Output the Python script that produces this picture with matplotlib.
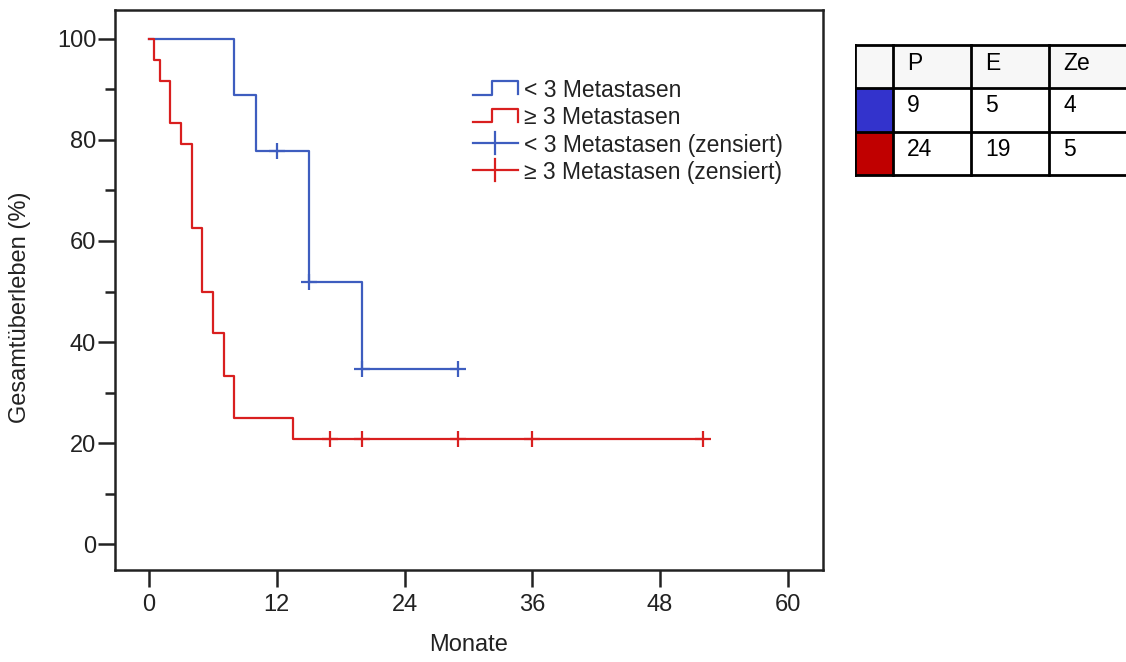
import matplotlib
matplotlib.use("Agg")
import matplotlib.pyplot as plt
from matplotlib.legend_handler import HandlerBase
from matplotlib.lines import Line2D
from matplotlib.patches import Rectangle

# ---------------- data ----------------
group_labels = ["< 3 Metastasen", "≥ 3 Metastasen"]
censor_labels = ["< 3 Metastasen (zensiert)", "≥ 3 Metastasen (zensiert)"]

blue_step_t = [0, 8, 10, 15, 20, 29]
blue_step_s = [100, 88.9, 77.8, 51.9, 34.6, 34.6]
blue_cens_t = [12, 15, 20, 29]
blue_cens_s = [77.8, 51.9, 34.6, 34.6]

red_step_t = [0, 0.5, 1, 2, 3, 4, 5, 6, 7, 8, 13.5, 52]
red_step_s = [100, 95.8, 91.7, 83.3, 79.2, 62.5, 50.0, 41.7, 33.3, 25.0, 20.8, 20.8]
red_cens_t = [17, 20, 29, 36, 52]
red_cens_s = [20.8, 20.8, 20.8, 20.8, 20.8]

xticks = [0, 12, 24, 36, 48, 60]
yticks = [0, 20, 40, 60, 80, 100]
yminor = [10, 30, 50, 70, 90]

table_header = ["", "P", "E", "Ze"]
table_rows = [["9", "5", "4"], ["24", "19", "5"]]
table_swatches = ["#3333cc", "#c00000"]

BLUE = "#3e5dbf"
RED = "#d91f1f"

SANS = ["Liberation Sans", "DejaVu Sans"]
TXT = "#222222"

W, H = 1126, 662
fig = plt.figure(figsize=(W / 100, H / 100), dpi=100)

# axes box in pixels: left 115, right 823, top 10, bottom 570
ax = fig.add_axes([115 / W, 1 - 570 / H, 708 / W, 560 / H])
ax.set_xlim(-3.2, 63.3)
ax.set_ylim(-5.1, 105.7)

ax.plot(blue_step_t, blue_step_s, drawstyle="steps-post", color=BLUE, lw=1.6, zorder=3)
ax.plot(red_step_t, red_step_s, drawstyle="steps-post", color=RED, lw=1.6, zorder=4)
ax.plot(blue_cens_t, blue_cens_s, ls="none", marker="+", ms=11, mew=1.6, color=BLUE, zorder=5)
ax.plot(red_cens_t, red_cens_s, ls="none", marker="+", ms=11, mew=1.6, color=RED, zorder=5)

for s in ax.spines.values():
    s.set_linewidth(1.8)
    s.set_color(TXT)

ax.set_xticks(xticks)
ax.set_yticks(yticks)
ax.set_yticks(yminor, minor=True)
ax.tick_params(axis="x", which="major", length=12, width=1.8, pad=5, color=TXT)
ax.tick_params(axis="y", which="major", length=12, width=1.8, pad=1.5, color=TXT)
ax.tick_params(axis="y", which="minor", length=7, width=1.8, color=TXT)
for lab in ax.get_xticklabels() + ax.get_yticklabels():
    lab.set_family(SANS)
    lab.set_fontsize(17)
    lab.set_color(TXT)

ax.set_xlabel("Monate", family=SANS, fontsize=17, color=TXT)
ax.set_ylabel("Gesamtüberleben (%)", family=SANS, fontsize=17, color=TXT)
ax.xaxis.set_label_coords(0.5, -0.115)
ax.yaxis.set_label_coords(-0.118, 0.47)


# -------- legend with step-shaped handles --------
class StepHandler(HandlerBase):
    def create_artists(self, legend, orig, xd, yd, width, height, fontsize, trans):
        y0 = yd + height * 0.1
        y1 = yd + height * 0.9
        xs = [xd, xd + width * 0.43, xd + width * 0.43, xd + width, xd + width]
        ys = [y0, y0, y1, y1, y0 + (y1 - y0) * 0.05]
        ln = Line2D(xs, ys, color=orig.get_color(), lw=1.6, transform=trans)
        return [ln]


class CensorHandler(HandlerBase):
    def create_artists(self, legend, orig, xd, yd, width, height, fontsize, trans):
        ym = yd + height * 0.5
        h = Line2D([xd, xd + width], [ym, ym], color=orig.get_color(), lw=1.6, transform=trans)
        v = Line2D([xd + width * 0.5] * 2, [ym - height * 0.65, ym + height * 0.65],
                   color=orig.get_color(), lw=1.6, transform=trans)
        return [h, v]


h1 = Line2D([], [], color=BLUE)
h2 = Line2D([], [], color=RED)
h3 = Line2D([], [], color=BLUE)
h4 = Line2D([], [], color=RED)
leg = ax.legend([h1, h2, h3, h4], group_labels + censor_labels,
                handler_map={h1: StepHandler(), h2: StepHandler(),
                             h3: CensorHandler(), h4: CensorHandler()},
                loc="upper left", bbox_to_anchor=((473 - 115) / 708, 1 - (79 - 10) / 560),
                frameon=False, borderpad=0, borderaxespad=0, prop={"family": SANS, "size": 16.5},
                handlelength=1.95, handletextpad=0.28, labelspacing=0.19, handleheight=0.75)
for t in leg.get_texts():
    t.set_color(TXT)

# ---------------- table ----------------
tx = fig.add_axes([855 / W, 1 - 177 / H, (1140 - 855) / W, (177 - 43) / H])
tx.set_xlim(855, 1140)
tx.set_ylim(177, 43)
tx.axis("off")
col_edges = [855, 893, 971, 1049, 1127]
row_edges = [45, 88, 132, 175]
tx.add_patch(Rectangle((col_edges[0], row_edges[0]), col_edges[-1] - col_edges[0],
                       row_edges[1] - row_edges[0], facecolor="#f7f7f7", edgecolor="none"))
for i, c in enumerate(table_swatches):
    tx.add_patch(Rectangle((col_edges[0], row_edges[i + 1]), col_edges[1] - col_edges[0],
                           row_edges[i + 2] - row_edges[i + 1], facecolor=c, edgecolor="none"))
for x in col_edges:
    tx.plot([x, x], [row_edges[0], row_edges[-1]], color="black", lw=2, solid_capstyle="projecting")
for y in row_edges:
    tx.plot([col_edges[0], col_edges[-1]], [y, y], color="black", lw=2, solid_capstyle="projecting")
for j, txt in enumerate(table_header):
    if txt:
        tx.text(col_edges[j] + 14, row_edges[0] + 19, txt, family=SANS, fontsize=16.5,
                va="center", ha="left", color="black")
for i, row in enumerate(table_rows):
    for j, txt in enumerate(row):
        tx.text(col_edges[j + 1] + 14, row_edges[i + 1] + 17, txt, family=SANS, fontsize=16.5,
                va="center", ha="left", color="black")

fig.savefig("out.png", dpi=100)
